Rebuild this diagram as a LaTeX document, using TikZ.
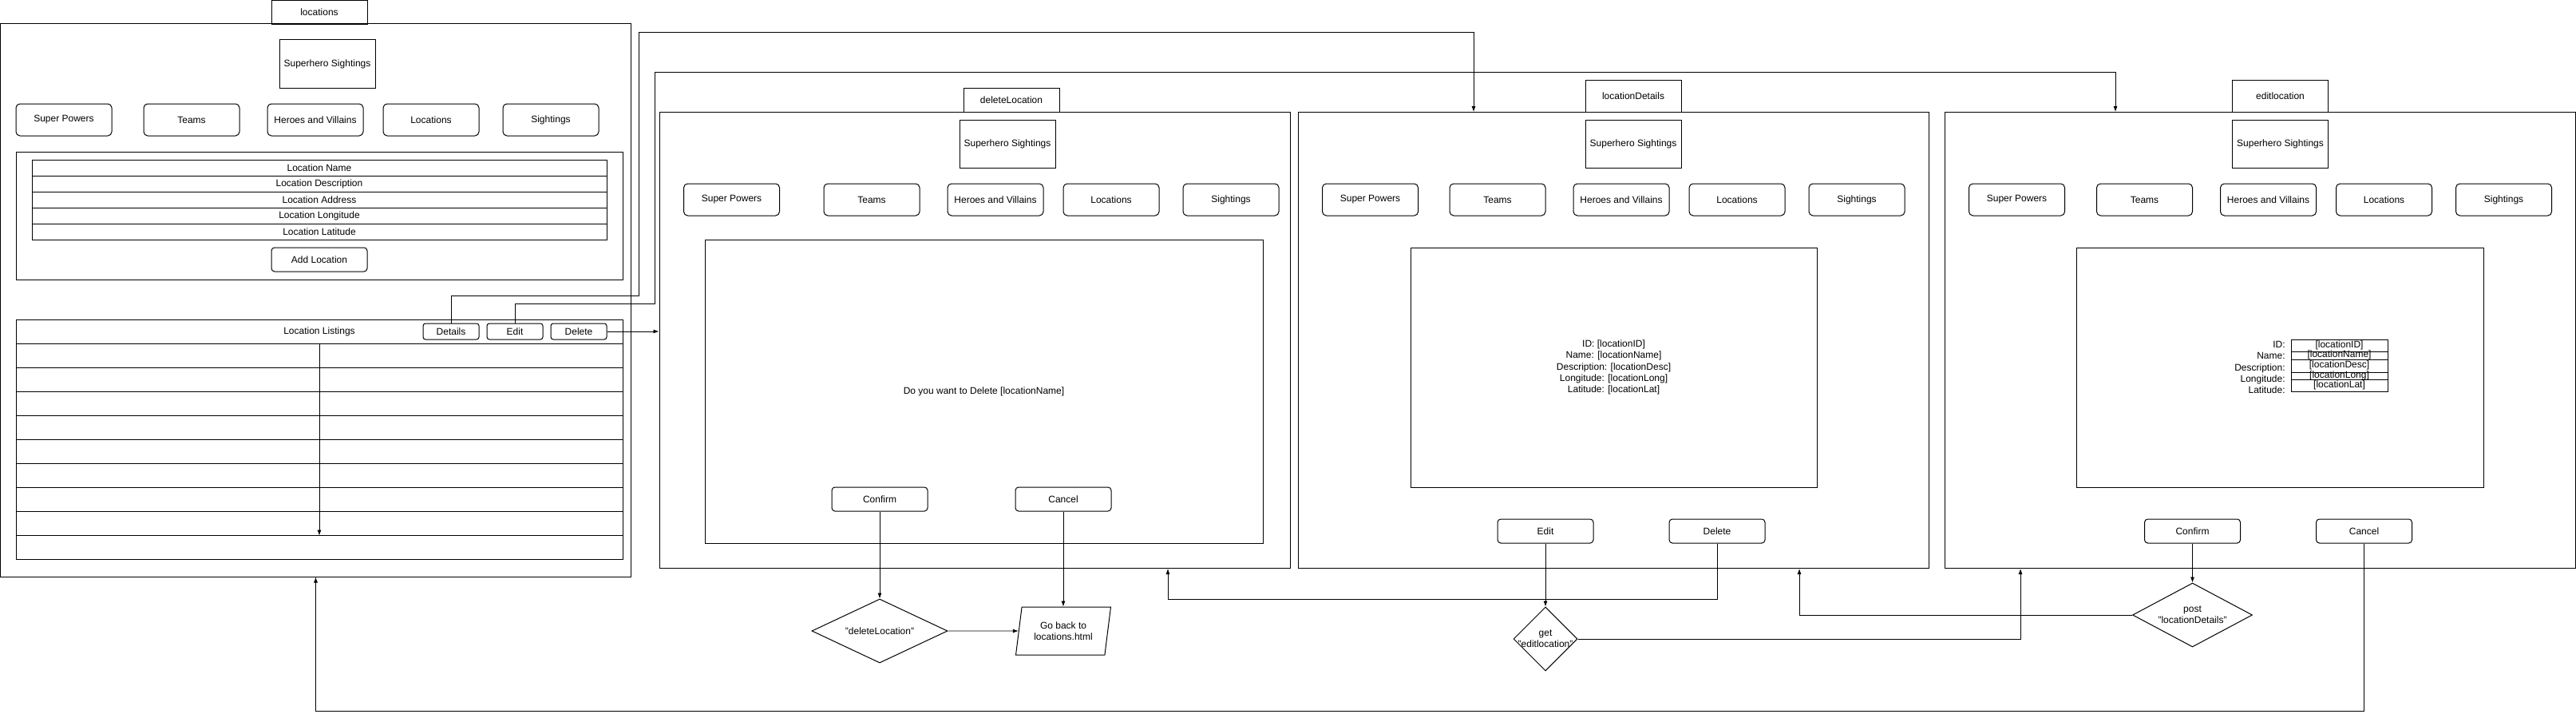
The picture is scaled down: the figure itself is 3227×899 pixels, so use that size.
\documentclass[tikz,border=0pt]{standalone}
\usepackage{fontspec}
\setmainfont{Liberation Sans}
\usetikzlibrary{positioning}
\usetikzlibrary{shapes.geometric}
\usetikzlibrary{arrows.meta}

\begin{document}
\begin{tikzpicture}[x=1pt,y=-1pt,line width=0.8pt,
    >={Latex[length=7pt,width=5pt]},
    every node/.style={font=\fontsize{12}{14.3}\selectfont, inner sep=0pt},
    page/.style={
% The shape:
rectangle,
% The border:
line width=1pt, draw,
},
    tab/.style={
% The shape:
rectangle,
% The size:
minimum width=120pt,
minimum height=40pt,
% The border:
line width=1pt, draw,
},
    banner/.style={
% The shape:
rectangle,
% The size:
minimum width=120pt,
minimum height=60pt,
% The border:
line width=1pt, draw,
},
    menu/.style={
% The shape:
rectangle, rounded corners=5pt,
% The size:
minimum width=120pt,
minimum height=40pt,
% The border:
line width=1pt, draw,
},
    button/.style={
% The shape:
rectangle, rounded corners=4pt,
% The size:
minimum width=120pt,
minimum height=30pt,
% The border:
line width=1pt, draw,
},
    minibutton/.style={
% The shape:
rectangle, rounded corners=3pt,
% The size:
minimum width=70pt,
minimum height=20pt,
% The border:
line width=1pt, draw,
},
    formrow/.style={
rectangle,
minimum width=720pt,
minimum height=20pt,
line width=1pt, draw,
},
    listrow/.style={
rectangle,
minimum width=760pt,
minimum height=30pt,
line width=1pt, draw,
},
    field/.style={
rectangle,
minimum width=121pt,
text height=7pt, text depth=2pt,
line width=1pt, draw,
},
    decision/.style={
% The shape:
diamond, align=center,
% The border:
line width=1pt, draw,
},
    output/.style={
% The shape:
trapezium, trapezium left angle=77, trapezium right angle=103,
trapezium stretches=true,
% The size:
minimum width=120pt,
minimum height=60pt,
align=center,
% The border:
line width=1pt, draw,
},
]
  \useasboundingbox (0, 0) rectangle (3227, 899);

  % locations page
  \node[tab, minimum height=30pt] (loctab) at (400, 15.5) {locations};
  \node[page, minimum width=790pt, minimum height=692pt] (locframe) at (395.5, 376) {};
  \node[banner] (locbanner) at (410, 80) {Superhero Sightings};
  \foreach \lbl/\x [count=\i] in {Super Powers/80, Teams/240, Heroes and Villains/395, Locations/540, Sightings/690}
    \node[menu] (locmenu\i) at (\x, 150) {\lbl};
  \node[page, minimum width=760pt, minimum height=160pt] (locform) at (400, 270) {};
  \foreach \lbl [count=\i] in {Location Name, Location Description, Location Address, Location Longitude, Location Latitude}
    \node[formrow] (locrow\i) at (400, {190+20*\i}) {\lbl};
  \node[button] (addloc) at (400, 325) {Add Location};
  \node[listrow] (list0) at (400, 415) {Location Listings};
  \foreach \i in {1,...,9}
    \node[listrow] (list\i) at (400, {415+30*\i}) {};
  \node[minibutton] (details) at (565, 415) {Details};
  \node[minibutton] (edit) at (645, 415) {Edit};
  \node[minibutton] (delete) at (725, 415) {Delete};

  % deleteLocation page
  \node[tab, minimum height=30pt] (deltab) at (1267, 125) {deleteLocation};
  \node[page, minimum width=790pt, minimum height=571pt] (delframe) at (1221, 425.5) {};
  \node[banner] (delbanner) at (1262, 180) {Superhero Sightings};
  \foreach \lbl/\x [count=\i] in {Super Powers/916.5, Teams/1092, Heroes and Villains/1247, Locations/1392, Sightings/1542}
    \node[menu] (delmenu\i) at (\x, 250) {\lbl};
  \node[page, minimum width=699pt, minimum height=380pt] (delbox) at (1232.5, 490) {Do you want to Delete [locationName]};
  \node[button] (delconfirm) at (1102, 625) {Confirm};
  \node[button] (delcancel) at (1332, 625) {Cancel};
  \node[decision, minimum width=170pt, minimum height=80pt] (deldecision) at (1102, 790) {\makebox[0pt]{"deleteLocation"}};
  \node[output] (goback) at (1332, 790) {Go back to\\locations.html};

  % locationDetails page
  \node[tab] (dettab) at (2046, 120) {locationDetails};
  \node[page, minimum width=790pt, minimum height=571pt] (detframe) at (2021, 425.5) {};
  \node[banner] (detbanner) at (2046, 180) {Superhero Sightings};
  \foreach \lbl/\x [count=\i] in {Super Powers/1716.5, Teams/1876, Heroes and Villains/2031, Locations/2176, Sightings/2326}
    \node[menu] (detmenu\i) at (\x, 250) {\lbl};
  \node[page, minimum width=509pt, minimum height=300pt, align=center] (detbox) at (2021.5, 460)
    {ID: [locationID]\\Name: [locationName]\\Description: [locationDesc]\\Longitude: [locationLong]\\Latitude: [locationLat]};
  \node[button] (detedit) at (1936, 665) {Edit};
  \node[button] (detdelete) at (2151, 665) {Delete};
  \node[decision, minimum width=80pt, minimum height=80pt] (getdecision) at (1936, 800) {\makebox[0pt]{get}\\\makebox[0pt]{"editlocation"}};

  % editlocation page
  \node[tab] (edittab) at (2856.5, 120) {editlocation};
  \node[page, minimum width=790pt, minimum height=571pt] (editframe) at (2831, 425.5) {};
  \node[banner] (editbanner) at (2856.5, 180) {Superhero Sightings};
  \foreach \lbl/\x [count=\i] in {Super Powers/2526.5, Teams/2686.5, Heroes and Villains/2841.5, Locations/2986.5, Sightings/3136.5}
    \node[menu] (editmenu\i) at (\x, 250) {\lbl};
  \node[page, minimum width=510pt, minimum height=300pt] (editbox) at (2856, 460) {};
  \node[anchor=east, align=right] (editlabels) at (2863, 460) {ID:\\Name:\\Description:\\Longitude:\\Latitude:};
  \node[field, minimum height=15pt] (fieldid) at (2930.5, 432.5) {[locationID]};
  \node[field, minimum height=10pt] (fieldname) at (2930.5, 445) {[locationName]};
  \node[field, minimum height=16pt] (fielddesc) at (2930.5, 458) {[locationDesc]};
  \node[field, minimum height=9pt] (fieldlong) at (2930.5, 470.5) {[locationLong]};
  \node[field, minimum height=15pt] (fieldlat) at (2930.5, 482.5) {[locationLat]};
  \node[button] (editconfirm) at (2746.5, 665) {Confirm};
  \node[button] (editcancel) at (2961.5, 665) {Cancel};
  \node[decision, minimum width=150pt, minimum height=80pt] (postdecision) at (2746.5, 770) {\makebox[0pt]{post}\\\makebox[0pt]{"locationDetails"}};

  % where the connectors come in
  \coordinate (detin) at (1846, 140);
  \coordinate (editin) at (2650, 140);
  \coordinate (delin) at (1463, 712);
  \coordinate (detback) at (2254, 712);
  \coordinate (editback) at (2531, 712);

  \draw [->] (details) |- (800, 370) -- (800, 40) -| (detin);
  \draw [->] (edit) |- (820, 380) -- (820, 90) -| (editin);
  \draw [->] (delete) -- (delete -| delframe.west);
  \draw [->] (list0.south) -- (list8.south);
  \draw [->] (delconfirm) -- (deldecision);
  \draw [->] (delcancel) -- (goback);
  \draw [->] (deldecision) -- (goback);
  \draw [->] (detedit) -- (getdecision);
  \draw [->] (detdelete.south) -- ++(0, 70) -| (delin);
  \draw [->] (getdecision) -| (editback);
  \draw [->] (editconfirm) -- (postdecision);
  \draw [->] (postdecision) -| (detback);
  \draw [->] (editcancel.south) -- ++(0, 210) -| (locframe.south);

\end{tikzpicture}
\end{document}
